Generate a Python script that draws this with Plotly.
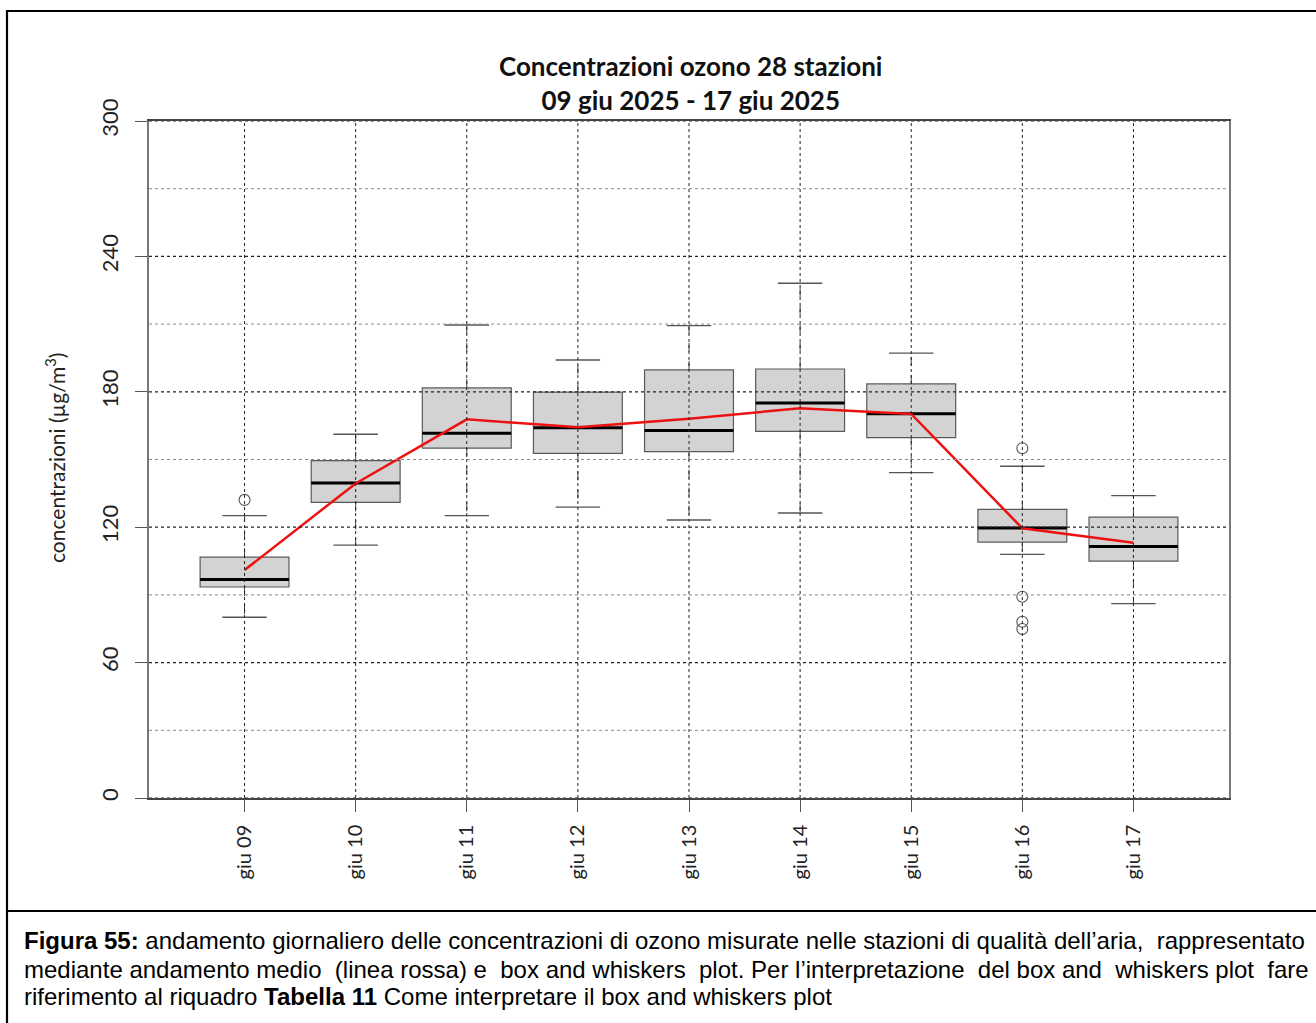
import plotly.graph_objects as go

# Daily ozone statistics over the 28 monitoring stations (µg/m³)
days = ["giu 09", "giu 10", "giu 11", "giu 12", "giu 13", "giu 14", "giu 15", "giu 16", "giu 17"]
q1 = [93.5, 131.0, 155.0, 152.7, 153.5, 162.5, 159.7, 113.4, 105.0]
median = [96.8, 139.6, 161.6, 164.1, 162.9, 175.0, 170.3, 119.6, 111.5]
q3 = [106.7, 149.5, 181.7, 179.9, 189.7, 190.1, 183.5, 127.9, 124.5]
whisker_low = [80.1, 112.1, 125.1, 128.9, 123.2, 126.3, 144.2, 108.0, 86.1]
whisker_high = [125.1, 161.2, 209.6, 194.1, 209.3, 228.1, 197.1, 147.0, 134.0]
mean = [101.0, 139.4, 167.8, 164.3, 168.1, 172.7, 170.2, 119.5, 113.1]
outlier_day = [0, 7, 7, 7, 7]
outlier_value = [132.1, 155.0, 89.2, 78.1, 74.9]

y_ticks = [0, 60, 120, 180, 240, 300]
y_minor = [30, 90, 150, 210, 270]

xs = list(range(len(days)))
BOX_HALF = 0.4
STAPLE_HALF = 0.2

fig = go.Figure()

# box bodies
fig.add_trace(go.Box(
    x=xs, q1=q1, median=median, q3=q3, lowerfence=q1, upperfence=q3,
    width=2 * BOX_HALF, whiskerwidth=0,
    fillcolor="#d3d3d3", line=dict(color="#5a5a5a", width=1.2),
    boxpoints=False, showlegend=False, hoverinfo="skip",
))

def segments(x0s, x1s, y0s, y1s):
    sx, sy = [], []
    for a, b, c, d in zip(x0s, x1s, y0s, y1s):
        sx += [a, b, None]
        sy += [c, d, None]
    return sx, sy

# whiskers (dashed)
wx, wy = segments(xs + xs, xs + xs, q3 + q1, whisker_high + whisker_low)
fig.add_trace(go.Scatter(x=wx, y=wy, mode="lines",
                         line=dict(color="#444", width=1, dash="dash"),
                         showlegend=False, hoverinfo="skip"))

# staples
sx, sy = segments([x - STAPLE_HALF for x in xs] * 2, [x + STAPLE_HALF for x in xs] * 2,
                  whisker_high + whisker_low, whisker_high + whisker_low)
fig.add_trace(go.Scatter(x=sx, y=sy, mode="lines",
                         line=dict(color="#555", width=1.3),
                         showlegend=False, hoverinfo="skip"))

# medians
mx, my = segments([x - BOX_HALF for x in xs], [x + BOX_HALF for x in xs], median, median)
fig.add_trace(go.Scatter(x=mx, y=my, mode="lines",
                         line=dict(color="#000", width=3),
                         showlegend=False, hoverinfo="skip"))

# outliers
fig.add_trace(go.Scatter(x=outlier_day, y=outlier_value, mode="markers",
                         marker=dict(symbol="circle-open", size=11, color="#555",
                                     line=dict(width=1.1)),
                         showlegend=False, hoverinfo="skip"))

# daily mean (red line)
fig.add_trace(go.Scatter(x=xs, y=mean, mode="lines",
                         line=dict(color="#ee1111", width=2.5),
                         showlegend=False, hoverinfo="skip"))

# grid drawn over the boxes
shapes = []
for x in xs:
    shapes.append(dict(type="line", xref="x", yref="paper", x0=x, x1=x, y0=0, y1=1,
                       line=dict(color="#222", width=1, dash="dot"), layer="above"))
for v in y_ticks:
    shapes.append(dict(type="line", xref="paper", yref="y", x0=0, x1=1, y0=v, y1=v,
                       line=dict(color="#222", width=1.2, dash="dot"), layer="above"))
for v in y_minor:
    shapes.append(dict(type="line", xref="paper", yref="y", x0=0, x1=1, y0=v, y1=v,
                       line=dict(color="#888", width=1, dash="dot"), layer="above"))

# outer frame and caption separator
L, R, T, B = 149, 87, 121, 225
W, H = 1316, 1023
pw, ph = W - L - R, H - T - B

def px(x):
    return (x - L) / pw

def py(y):
    return (H - B - y) / ph

shapes.append(dict(type="rect", xref="paper", yref="paper",
                   x0=px(7), x1=px(1330), y0=py(1040), y1=py(11),
                   line=dict(color="#000", width=2.2), layer="above"))
shapes.append(dict(type="line", xref="paper", yref="paper",
                   x0=px(7), x1=px(1330), y0=py(911), y1=py(911),
                   line=dict(color="#000", width=2.2), layer="above"))

annotations = [
    dict(text="<b>Concentrazioni ozono 28 stazioni</b><br><b>09 giu 2025 - 17 giu 2025</b>",
         xref="paper", yref="paper", x=px(690), y=py(83), xanchor="center", yanchor="middle",
         showarrow=False, font=dict(family="Lato", size=26, color="#111")),
    dict(text="concentrazioni (µg/m<sup>3</sup>)", textangle=-90,
         xref="paper", yref="paper", x=px(55), y=py(458), xanchor="center", yanchor="middle",
         showarrow=False, font=dict(family="Lato", size=21, color="#222")),
]


def spread(text, extra):
    """Widen a caption line by adding non-breaking spaces evenly between words."""
    words = text.split(" ")
    gaps = len(words) - 1
    out = words[0]
    for i, w in enumerate(words[1:], start=1):
        add = extra > 0 and (i * extra) // gaps != ((i - 1) * extra) // gaps
        out += (" \u00a0" if add else " ") + w
    return out


caption = [
    ("<b>Figura 55:</b> andamento giornaliero delle concentrazioni di ozono misurate nelle stazioni di qualità dell’aria, rappresentato", 1),
    ("mediante andamento medio (linea rossa) e box and whiskers plot. Per l’interpretazione del box and whiskers plot fare", 6),
    ("riferimento al riquadro <b>Tabella 11</b> Come interpretare il box and whiskers plot", 0),
]
for (line, extra), yc in zip(caption, [941, 969, 997]):
    annotations.append(dict(text=spread(line, extra), xref="paper", yref="paper", x=px(22), y=py(yc),
                            xanchor="left", yanchor="middle", showarrow=False,
                            font=dict(family="Liberation Sans", size=24, color="#000")))

fig.update_layout(
    width=W, height=H,
    margin=dict(l=L, r=R, t=T, b=B),
    paper_bgcolor="white", plot_bgcolor="white",
    shapes=shapes, annotations=annotations,
    xaxis=dict(range=[-0.86, 8.86], tickmode="array", tickvals=xs, ticktext=days,
               tickangle=-90, showgrid=False, zeroline=False,
               ticks="outside", ticklen=12, tickcolor="#555", tickwidth=1,
               ticklabelstandoff=5,
               showline=True, linecolor="#444", linewidth=1.5, mirror=True,
               tickfont=dict(family="Lato", size=20, color="#222")),
    yaxis=dict(range=[0, 300], tickmode="array", tickvals=y_ticks,
               tickangle=-90, showgrid=False, zeroline=False,
               ticks="outside", ticklen=12, tickcolor="#555", tickwidth=1,
               ticklabelstandoff=8,
               showline=True, linecolor="#777", linewidth=1.5, mirror=True,
               tickfont=dict(family="Lato", size=22, color="#222")),
)

fig.write_html("out.html")
